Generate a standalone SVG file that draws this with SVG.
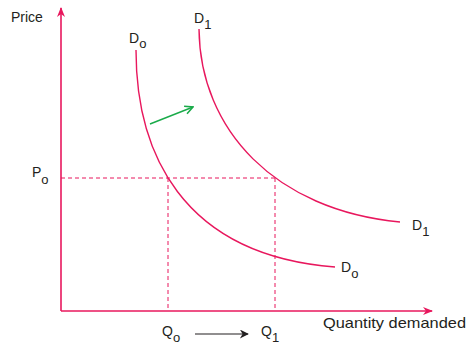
<svg xmlns="http://www.w3.org/2000/svg" width="474" height="344" viewBox="0 0 474 344">
<defs>
<style>
.ax{stroke:#e8175d;stroke-width:1.6;fill:none}
.cv{stroke:#e8175d;stroke-width:1.4;fill:none}
.ds{stroke:#e8175d;stroke-width:1;stroke-dasharray:4 3;fill:none}
text{font-family:"Liberation Sans",Arial,sans-serif;fill:#231f20}
.lb{font-size:14px}
</style>
<marker id="ah" viewBox="0 0 10 10" refX="9" refY="5" markerWidth="14" markerHeight="10" markerUnits="userSpaceOnUse" orient="auto"><path d="M0,1 L10,5 L0,9 L3,5 Z" fill="#e8175d"/></marker>
<marker id="ak" viewBox="0 0 10 10" refX="9" refY="5" markerWidth="12" markerHeight="9" markerUnits="userSpaceOnUse" orient="auto"><path d="M0,0 L10,5 L0,10 L3,5 Z" fill="#231f20"/></marker>
<marker id="ag" viewBox="0 0 10 10" refX="9" refY="5" markerWidth="10" markerHeight="10" markerUnits="userSpaceOnUse" orient="auto"><path d="M1,1 L9,5 L1,9" fill="none" stroke="#1aab4a" stroke-width="1.6"/></marker>
</defs>
<rect width="474" height="344" fill="#ffffff"/>
<g id="connectors">
<line class="ax" x1="61" y1="311" x2="61" y2="8" marker-end="url(#ah)"/>
<line class="ax" x1="61" y1="311" x2="432" y2="311" marker-end="url(#ah)"/>
<line class="ds" x1="61" y1="178" x2="276" y2="178"/>
<line class="ds" x1="168" y1="178" x2="168" y2="311"/>
<line class="ds" x1="275" y1="178" x2="275" y2="311"/>
<line x1="150" y1="124" x2="193" y2="107" stroke="#1aab4a" stroke-width="1.4" marker-end="url(#ag)"/>
<line x1="195" y1="334" x2="248" y2="334" stroke="#231f20" stroke-width="1.2" marker-end="url(#ak)"/>
</g>
<g id="curve-d0"><path class="cv" d="M136,50 C136,150 180,255 335,267"/></g>
<g id="curve-d1"><path class="cv" d="M199,29 C200,130 275,210 400,222"/></g>
<g id="labels">
<text class="lb" x="11" y="22" font-size="13">Price</text>
<text class="lb" x="129" y="43">D<tspan font-size="13" dy="5">o</tspan></text>
<text class="lb" x="194" y="23">D<tspan font-size="13" dy="6">1</tspan></text>
<text class="lb" x="32" y="177">P<tspan font-size="13" dy="7">o</tspan></text>
<text class="lb" x="412" y="230">D<tspan font-size="13" dy="6">1</tspan></text>
<text class="lb" x="341" y="272">D<tspan font-size="13" dy="6">o</tspan></text>
<text class="lb" x="162" y="336">Q<tspan font-size="13" dy="6">o</tspan></text>
<text class="lb" x="261" y="336">Q<tspan font-size="13" dy="6">1</tspan></text>
<text x="323" y="328" font-size="15" textLength="143" lengthAdjust="spacingAndGlyphs">Quantity demanded</text>
</g>
</svg>
